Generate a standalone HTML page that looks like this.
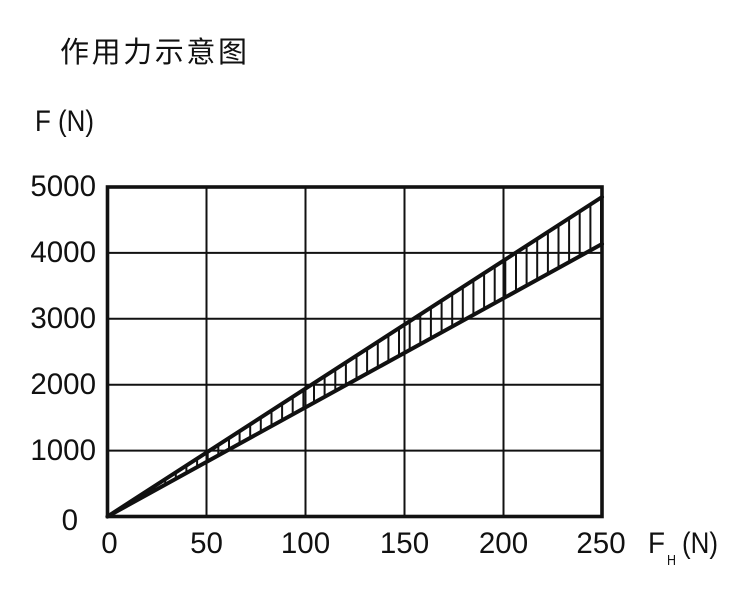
<!DOCTYPE html>
<html><head><meta charset="utf-8"><style>
html,body{margin:0;padding:0;background:#fff;}
svg{display:block;}
text{font-family:"Liberation Sans","Noto Sans CJK SC",sans-serif;fill:#111;}
</style></head><body>
<svg width="750" height="590" viewBox="0 0 750 590" xmlns="http://www.w3.org/2000/svg">
<text x="60" y="62" font-size="29" letter-spacing="2.6" style="font-family:'Noto Sans CJK SC','WenQuanYi Zen Hei',sans-serif;">作用力示意图</text>
<text x="35" y="131" font-size="30" textLength="59" lengthAdjust="spacingAndGlyphs">F (N)</text>
<!-- grid -->
<g stroke="#111" stroke-width="2">
<line x1="206.5" y1="187" x2="206.5" y2="516.5"/>
<line x1="305.5" y1="187" x2="305.5" y2="516.5"/>
<line x1="404.5" y1="187" x2="404.5" y2="516.5"/>
<line x1="503.5" y1="187" x2="503.5" y2="516.5"/>
<line x1="107.5" y1="252.9" x2="602" y2="252.9"/>
<line x1="107.5" y1="318.8" x2="602" y2="318.8"/>
<line x1="107.5" y1="384.7" x2="602" y2="384.7"/>
<line x1="107.5" y1="450.6" x2="602" y2="450.6"/>
</g>
<!-- band fill near origin -->
<polygon points="107.5,516.5 150,490 150,493.5" fill="#111"/>
<!-- hatches -->
<g stroke="#111" stroke-width="2" id="h"></g>
<!-- band lines -->
<g stroke="#111" stroke-width="4" stroke-linecap="round">
<line x1="107.5" y1="516.5" x2="602" y2="197"/>
<line x1="107.5" y1="516.5" x2="602" y2="244"/>
</g>
<!-- frame -->
<rect x="107.5" y="187" width="494.5" height="329.5" fill="none" stroke="#111" stroke-width="3.6"/>
<!-- y labels -->
<g font-size="29.5" text-anchor="end">
<text x="96" y="196">5000</text>
<text x="96" y="262">4000</text>
<text x="96" y="328">3000</text>
<text x="96" y="394">2000</text>
<text x="96" y="460">1000</text>
<text x="78" y="530">0</text>
</g>
<!-- x labels -->
<g font-size="29.5" text-anchor="middle">
<text x="109.5" y="553">0</text>
<text x="206.5" y="553">50</text>
<text x="305.5" y="553">100</text>
<text x="404.5" y="553">150</text>
<text x="503.5" y="553">200</text>
<text x="601" y="553">250</text>
</g>
<text x="648" y="553" font-size="30" textLength="17" lengthAdjust="spacingAndGlyphs">F</text>
<text x="667" y="565" font-size="15" textLength="9" lengthAdjust="spacingAndGlyphs">H</text>
<text x="682" y="553" font-size="30" textLength="36" lengthAdjust="spacingAndGlyphs">(N)</text>
<script>
(function(){
var g=document.getElementById('h');var ns='http://www.w3.org/2000/svg';
for(var x=601;x>112;x-=10.63){
 var t=(x-107.5)/494.5;
 var yu=516.5-t*319.5, yl=516.5-t*272.5;
 var l=document.createElementNS(ns,'line');
 l.setAttribute('x1',x.toFixed(1));l.setAttribute('x2',x.toFixed(1));
 l.setAttribute('y1',yu.toFixed(1));l.setAttribute('y2',yl.toFixed(1));
 g.appendChild(l);
}
})();
</script>
</svg>
</body></html>
